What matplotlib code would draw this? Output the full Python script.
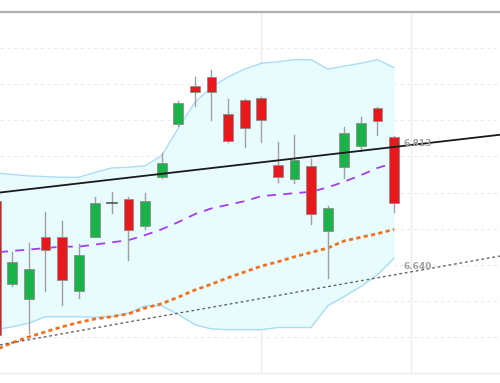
import matplotlib
matplotlib.use('Agg')
import matplotlib.pyplot as plt
import numpy as np

# ---- candle data (index 0 is cut off at the left edge) ----
opens = [6.738, 6.623, 6.603, 6.688, 6.689, 6.613, 6.689, 6.736, 6.741, 6.703,
         6.771, 6.845, 6.897, 6.910, 6.859, 6.878, 6.881, 6.788, 6.769, 6.787,
         6.696, 6.785, 6.814, 6.867, 6.827]
highs = [6.742, 6.668, 6.680, 6.723, 6.710, 6.679, 6.744, 6.751, 6.744, 6.749,
         6.805, 6.877, 6.910, 6.919, 6.880, 6.879, 6.882, 6.820, 6.830, 6.796,
         6.731, 6.841, 6.855, 6.869, 6.828]
lows = [6.550, 6.620, 6.555, 6.613, 6.594, 6.604, 6.688, 6.722, 6.656, 6.699,
        6.770, 6.842, 6.870, 6.851, 6.820, 6.813, 6.820, 6.765, 6.763, 6.707,
        6.631, 6.770, 6.807, 6.829, 6.723]
closes = [6.553, 6.654, 6.644, 6.670, 6.629, 6.663, 6.735, 6.7355, 6.698, 6.738,
          6.791, 6.874, 6.889, 6.889, 6.821, 6.839, 6.850, 6.771, 6.795, 6.720,
          6.729, 6.832, 6.846, 6.849, 6.736]

# ---- indicators ----
bb_upper = [6.777, 6.775, 6.773, 6.772, 6.771, 6.771, 6.778, 6.784, 6.785, 6.787,
            6.801, 6.839, 6.875, 6.896, 6.910, 6.921, 6.929, 6.931, 6.934, 6.934,
            6.921, 6.925, 6.929, 6.934, 6.923]
bb_lower = [6.560, 6.564, 6.569, 6.578, 6.578, 6.578, 6.577, 6.578, 6.583, 6.593,
            6.593, 6.581, 6.567, 6.561, 6.560, 6.560, 6.560, 6.563, 6.563, 6.563,
            6.593, 6.606, 6.620, 6.636, 6.659]
sma_mid = [6.667, 6.669, 6.671, 6.673, 6.675, 6.675, 6.678, 6.681, 6.684, 6.691,
           6.699, 6.709, 6.720, 6.728, 6.733, 6.738, 6.745, 6.747, 6.749, 6.751,
           6.757, 6.765, 6.774, 6.784, 6.791]
sma_slow = [6.532, 6.542, 6.550, 6.557, 6.564, 6.570, 6.575, 6.578, 6.582, 6.590,
            6.596, 6.605, 6.615, 6.623, 6.632, 6.640, 6.648, 6.654, 6.661, 6.667,
            6.673, 6.683, 6.688, 6.693, 6.699]

# ---- trend lines (value at left / right edge) ----
resist_y = [6.750, 6.830]
support_y = [6.539, 6.662]
resist_label = '6.813'
support_label = '6.640'

x_left, x_right = 0.26, 30.38
y_min, y_max = 6.50, 7.00

fig = plt.figure(figsize=(5.0, 3.83), dpi=100)
ax = fig.add_axes([0, 10 / 383, 1, 361 / 383])
ax.set_xlim(x_left, x_right)
ax.set_ylim(y_min, y_max)
ax.axis('off')

idx = np.arange(len(opens))

# grid
for gy in np.arange(6.55, 7.0, 0.05):
    ax.axhline(gy, color='#ebebeb', lw=0.8, ls=(0, (3, 3)), zorder=0)
ax.axhline(y_max, color='#b0b0b0', lw=1.6, zorder=1, clip_on=False)
ax.axhline(y_min, color='#ebebeb', lw=1.0, zorder=1, clip_on=False)
for vx in [16, 25]:
    ax.axvline(vx, color='#ececec', lw=1.0, zorder=0)

# bollinger band
ax.fill_between(idx, bb_lower, bb_upper, color='#e8fcfd', zorder=1, lw=0)
ax.plot(idx, bb_upper, color='#a9dcf5', lw=1.0, zorder=2)
ax.plot(idx, bb_lower, color='#a9dcf5', lw=1.0, zorder=2)

# moving averages
ax.plot(idx, sma_slow, color='#f07021', lw=2.0, ls=(0, (1.5, 1.2)), zorder=3)
ax.plot(idx, sma_mid, color='#a43cf0', lw=1.3, ls=(0, (5, 4)), zorder=3)

# trend lines
ax.plot([x_left, x_right], support_y, color='#666666', lw=1.0, ls=(0, (2, 2)), zorder=3)

# candles
body_w = 0.6
for i in idx:
    o, h, l, c = opens[i], highs[i], lows[i], closes[i]
    ax.plot([i, i], [l, h], color='#a0a0a0', lw=1.0, zorder=4)
    if abs(c - o) < 0.002:
        ax.plot([i - body_w / 2, i + body_w / 2], [o, o], color='#555555', lw=1.2, zorder=5)
        continue
    col = '#1cb24a' if c > o else '#e8191d'
    ax.add_patch(plt.Rectangle((i - body_w / 2, min(o, c)), body_w, abs(c - o),
                               facecolor=col, edgecolor='#8c8c8c', lw=0.6, zorder=5))

ax.plot([x_left, x_right], resist_y, color='#1a1a1a', lw=1.3, zorder=6)

ax.text(24.55, 6.818, resist_label, color='#a0a0a0', fontsize=6.5, ha='left',
        va='center', fontweight='semibold', zorder=7)
ax.text(24.55, 6.648, support_label, color='#a0a0a0', fontsize=6.5, ha='left',
        va='center', fontweight='semibold', zorder=7)

plt.savefig('out.png', dpi=100)
